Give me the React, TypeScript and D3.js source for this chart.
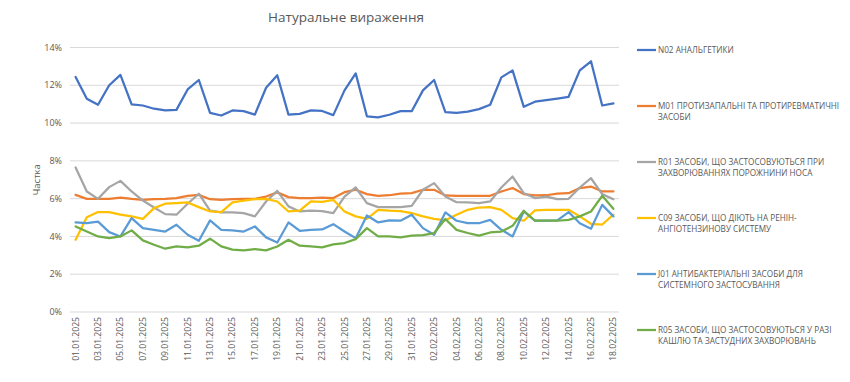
import React from "react";
import * as d3 from "d3";

const dates: string[] = Array.from({ length: 49 }, (_, i) => {
  const d = new Date(Date.UTC(2025, 0, 1 + i));
  const dd = String(d.getUTCDate()).padStart(2, "0");
  const mm = String(d.getUTCMonth() + 1).padStart(2, "0");
  return `${dd}.${mm}.2025`;
});

const seriesNames = [
  "N02 АНАЛЬГЕТИКИ",
  "M01 ПРОТИЗАПАЛЬНІ ТА ПРОТИРЕВМАТИЧНІ ЗАСОБИ",
  "R01 ЗАСОБИ, ЩО ЗАСТОСОВУЮТЬСЯ ПРИ ЗАХВОРЮВАННЯХ ПОРОЖНИНИ НОСА",
  "C09 ЗАСОБИ, ЩО ДІЮТЬ НА РЕНІН-АНГІОТЕНЗИНОВУ СИСТЕМУ",
  "J01 АНТИБАКТЕРІАЛЬНІ ЗАСОБИ ДЛЯ СИСТЕМНОГО ЗАСТОСУВАННЯ",
  "R05 ЗАСОБИ, ЩО ЗАСТОСОВУЮТЬСЯ У РАЗІ КАШЛЮ ТА ЗАСТУДНИХ ЗАХВОРЮВАНЬ",
];

const legendLines: string[][] = [
  ["N02 АНАЛЬГЕТИКИ"],
  ["M01 ПРОТИЗАПАЛЬНІ ТА ПРОТИРЕВМАТИЧНІ", "ЗАСОБИ"],
  ["R01 ЗАСОБИ, ЩО ЗАСТОСОВУЮТЬСЯ ПРИ", "ЗАХВОРЮВАННЯХ ПОРОЖНИНИ НОСА"],
  ["C09 ЗАСОБИ, ЩО ДІЮТЬ НА РЕНІН-", "АНГІОТЕНЗИНОВУ СИСТЕМУ"],
  ["J01 АНТИБАКТЕРІАЛЬНІ ЗАСОБИ ДЛЯ", "СИСТЕМНОГО ЗАСТОСУВАННЯ"],
  ["R05 ЗАСОБИ, ЩО ЗАСТОСОВУЮТЬСЯ У РАЗІ", "КАШЛЮ ТА ЗАСТУДНИХ ЗАХВОРЮВАНЬ"],
];

const colors = ["#4472C4", "#ED7D31", "#A5A5A5", "#FFC000", "#5B9BD5", "#70AD47"];

const n02 = [12.44, 11.29, 10.97, 12.0, 12.55, 10.99, 10.93, 10.76, 10.67, 10.7, 11.78, 12.28, 10.54, 10.4, 10.67, 10.63, 10.45, 11.87, 12.53, 10.45, 10.49, 10.67, 10.64, 10.42, 11.73, 12.63, 10.36, 10.3, 10.44, 10.63, 10.63, 11.73, 12.28, 10.58, 10.54, 10.61, 10.74, 10.97, 12.42, 12.79, 10.86, 11.13, 11.22, 11.3, 11.39, 12.79, 13.27, 10.93, 11.04];
const m01 = [6.2, 5.99, 5.99, 5.99, 6.06, 5.99, 5.94, 5.97, 5.99, 6.03, 6.15, 6.2, 5.97, 5.94, 5.97, 5.99, 5.99, 6.11, 6.33, 6.08, 6.03, 6.03, 6.05, 6.03, 6.34, 6.47, 6.24, 6.15, 6.18, 6.26, 6.29, 6.47, 6.47, 6.17, 6.15, 6.15, 6.15, 6.15, 6.38, 6.56, 6.24, 6.17, 6.18, 6.26, 6.29, 6.56, 6.64, 6.38, 6.38];
const r01 = [7.65, 6.38, 5.99, 6.61, 6.94, 6.38, 5.9, 5.53, 5.18, 5.15, 5.73, 6.26, 5.36, 5.27, 5.27, 5.23, 5.06, 5.85, 6.41, 5.59, 5.32, 5.36, 5.34, 5.23, 6.11, 6.59, 5.76, 5.55, 5.55, 5.55, 5.62, 6.47, 6.82, 6.11, 5.81, 5.8, 5.76, 5.85, 6.59, 7.17, 6.29, 6.03, 6.11, 5.97, 5.99, 6.59, 7.08, 6.24, 5.97];
const c09 = [3.82, 5.02, 5.29, 5.29, 5.15, 5.06, 4.93, 5.5, 5.73, 5.76, 5.8, 5.55, 5.32, 5.29, 5.8, 5.9, 5.97, 5.99, 5.85, 5.32, 5.36, 5.85, 5.83, 5.94, 5.32, 5.06, 4.93, 5.41, 5.36, 5.34, 5.23, 5.06, 4.93, 4.85, 5.15, 5.41, 5.53, 5.55, 5.41, 4.97, 4.83, 5.38, 5.41, 5.41, 5.41, 5.06, 4.67, 4.63, 5.15];
const j01 = [4.74, 4.7, 4.78, 4.23, 4.0, 4.97, 4.44, 4.35, 4.26, 4.62, 4.09, 3.77, 4.85, 4.35, 4.32, 4.26, 4.53, 3.95, 3.68, 4.74, 4.3, 4.35, 4.37, 4.65, 4.26, 3.91, 5.11, 4.74, 4.85, 4.83, 5.15, 4.44, 4.09, 5.27, 4.83, 4.7, 4.7, 4.88, 4.35, 4.0, 5.32, 4.83, 4.83, 4.85, 5.29, 4.7, 4.41, 5.67, 5.06];
const r05 = [4.53, 4.26, 4.0, 3.91, 4.0, 4.32, 3.79, 3.56, 3.35, 3.47, 3.42, 3.51, 3.88, 3.47, 3.3, 3.26, 3.33, 3.26, 3.47, 3.82, 3.51, 3.47, 3.42, 3.58, 3.65, 3.86, 4.44, 4.0, 4.0, 3.95, 4.04, 4.07, 4.18, 4.92, 4.35, 4.18, 4.04, 4.21, 4.26, 4.56, 5.36, 4.83, 4.83, 4.83, 4.88, 5.06, 5.32, 6.15, 5.46];

const seriesValues = [n02, m01, r01, c09, j01, r05];
const yTicks = [0, 2, 4, 6, 8, 10, 12, 14];

const FONT = "'Open Sans', 'Liberation Sans', sans-serif";
const TXT = "#595959";

export default function App() {
  const W = 850;
  const H = 382;
  const left = 70;
  const right = 619;
  const top = 47.5;
  const bottom = 312;

  const x = d3.scalePoint<string>().domain(dates).range([left, right]).padding(0.5);
  const y = d3.scaleLinear().domain([0, 14]).range([bottom, top]);
  const line = d3
    .line<number>()
    .x((_, i) => x(dates[i]) as number)
    .y((d) => y(d));

  const legendY = [50, 106, 162, 218, 274, 330];

  return (
    <svg width={W} height={H} style={{ position: "absolute", left: 0, top: 0, background: "#fff" }} fontFamily={FONT}>
      <rect width={W} height={H} fill="#fff" />
      <text x={346} y={22} textAnchor="middle" fontSize={13.5} fill={TXT}>
        Натуральне вираження
      </text>
      {yTicks.map((t) => (
        <g key={t}>
          <line x1={left} x2={right} y1={y(t)} y2={y(t)} stroke="#d9d9d9" strokeWidth={1} />
          <text x={62} y={y(t)} dy="0.35em" textAnchor="end" fontSize={9} fill={TXT}>
            {t}%
          </text>
        </g>
      ))}
      <text transform={`translate(40,${(top + bottom) / 2}) rotate(-90)`} textAnchor="middle" fontSize={9.5} fill={TXT}>
        Частка
      </text>
      {dates.map((d, i) =>
        i % 2 === 0 ? (
          <text
            key={d}
            transform={`translate(${(x(d) as number)},${bottom + 5}) rotate(-90)`}
            textAnchor="end"
            dy="0.35em"
            fontSize={8.6}
            fill={TXT}
          >
            {d}
          </text>
        ) : null
      )}
      {seriesValues.map((vals, si) => (
        <path
          key={si}
          d={line(vals) || ""}
          fill="none"
          stroke={colors[si]}
          strokeWidth={2.25}
          strokeLinejoin="round"
          strokeLinecap="round"
        />
      ))}
      {legendLines.map((lines, si) => (
        <g key={si}>
          <line x1={637} x2={656} y1={legendY[si]} y2={legendY[si]} stroke={colors[si]} strokeWidth={2.25} />
          {lines.map((ln, li) => (
            <text key={li} x={658} y={legendY[si] + li * 11.5} dy="0.35em" fontSize={8.2} fill={TXT}>
              {ln}
            </text>
          ))}
        </g>
      ))}
      <title>{seriesNames.join("; ")}</title>
    </svg>
  );
}
